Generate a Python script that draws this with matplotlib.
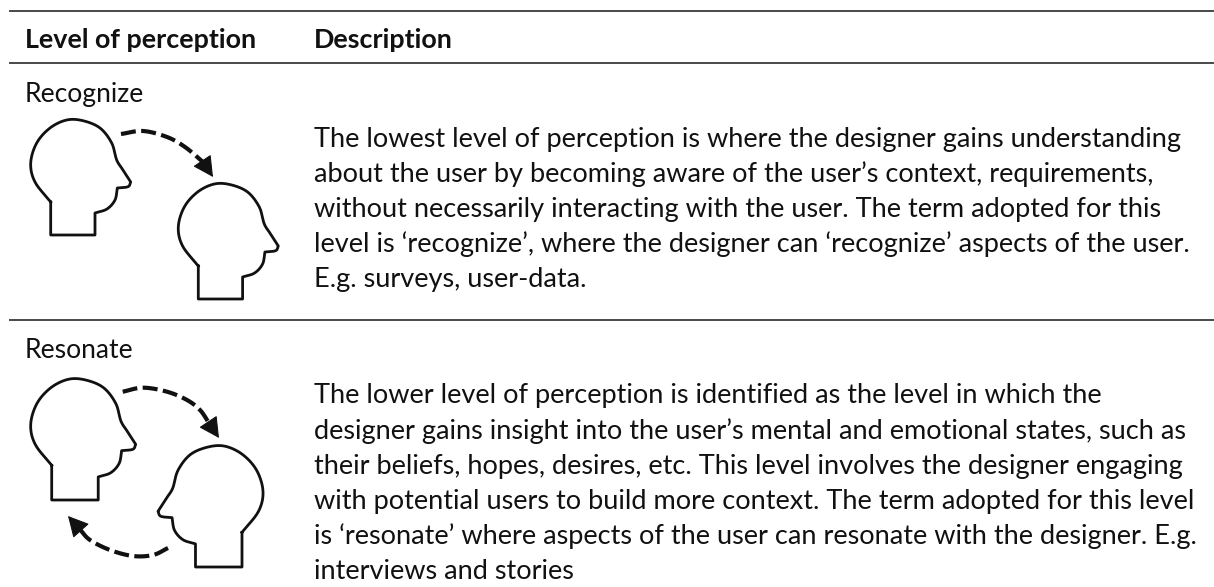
import numpy as np
import matplotlib
matplotlib.use("Agg")
import matplotlib.pyplot as plt
from matplotlib.patches import FancyArrowPatch

W, H = 1214, 587
plt.rcParams['font.family'] = ['Lato', 'DejaVu Sans']

header_left = "Level of perception"
header_right = "Description"
level_names = ["Recognize", "Resonate"]
recognize_lines = [
    "The lowest level of perception is where the designer gains understanding",
    "about the user by becoming aware of the user\u2019s context, requirements,",
    "without necessarily interacting with the user. The term adopted for this",
    "level is \u2018recognize\u2019, where the designer can \u2018recognize\u2019 aspects of the user.",
    "E.g. surveys, user-data.",
]
resonate_lines = [
    "The lower level of perception is identified as the level in which the",
    "designer gains insight into the user\u2019s mental and emotional states, such as",
    "their beliefs, hopes, desires, etc. This level involves the designer engaging",
    "with potential users to build more context. The term adopted for this level",
    "is \u2018resonate\u2019 where aspects of the user can resonate with the designer. E.g.",
    "interviews and stories",
]
recognize_base = [147, 182, 217, 252, 287]
resonate_base = [403, 439, 474, 509, 544, 579]
rule_y = [11, 63, 320]

# head outline (px), facing right; corners split the smooth runs
head_runs = [
    [(50.7, 202), (50.7, 235), (95, 235), (95, 213)],
    [(95, 213), (107, 209), (115, 200), (117.3, 188)],
    [(117.3, 188), (128, 186.7), (130.7, 182)],
    [(130.7, 182), (123, 170), (116.7, 160), (111.7, 143), (100, 128), (83, 120.7),
     (66.7, 120), (50, 128), (36.7, 143), (30.7, 163), (35, 182), (50.7, 202)],
]
# dashed arcs as seen in the reference
arc_recognize = [(121, 134), (143, 131), (167, 137), (185, 147), (203, 162)]
tip_recognize = ((203, 162), (213, 177))
arc_resonate_top = [(122.7, 391.7), (143, 387.7), (167, 391.7), (187, 400), (200, 410), (209, 423)]
tip_resonate_top = ((209, 423), (219, 438))
arc_resonate_bottom = [(168, 548), (153, 555), (133, 556), (110, 550), (90, 540), (80, 529.5)]
tip_resonate_bottom = ((80, 529.5), (68, 516))

def smooth(run, n=14):
    p = np.array(run, float)
    q = np.vstack([2 * p[0] - p[1], p, 2 * p[-1] - p[-2]])
    out = []
    for i in range(1, len(q) - 2):
        a, b, c, d = q[i - 1], q[i], q[i + 1], q[i + 2]
        for t in np.linspace(0, 1, n, endpoint=False):
            out.append(0.5 * (2 * b + (c - a) * t + (2 * a - 5 * b + 4 * c - d) * t ** 2
                              + (3 * b - a - 3 * c + d) * t ** 3))
    out.append(p[-1])
    return np.array(out)

outline = np.vstack([np.array(head_runs[0], float)] + [smooth(r) for r in head_runs[1:]])
ref = np.array([50.7, 235.0])

fig = plt.figure(figsize=(W / 100, H / 100), dpi=100)
ax = fig.add_axes([0, 0, 1, 1])
ax.set_xlim(0, W)
ax.set_ylim(H, 0)
ax.axis("off")

INK = "#111111"
for y in rule_y:
    ax.plot([9, W], [y, y], color="#3a3a3a", lw=1.3, solid_capstyle="butt")

def head(x, y, scale=1.0, flip=False):
    p = (outline - ref) * scale
    if flip:
        p = p * [-1, 1]
    ax.plot(p[:, 0] + x, p[:, 1] + y, color=INK, lw=2.0, solid_joinstyle="round")

def arc(points, tip):
    s = smooth(points)
    ax.plot(s[:, 0], s[:, 1], color=INK, lw=3.0, linestyle=(0, (3.6, 1.3)),
            dash_capstyle="butt")
    ax.add_patch(FancyArrowPatch(tip[0], tip[1], arrowstyle="-|>,head_length=6.5,head_width=3.4",
                                 color=INK, lw=0.8, shrinkA=0, shrinkB=0, mutation_scale=2.0))

head(50.7, 235)
head(198.3, 299)
arc(arc_recognize, tip_recognize)

head(51.7, 500, 1.05)
head(242, 567, 1.05, flip=True)
arc(arc_resonate_top, tip_resonate_top)
arc(arc_resonate_bottom, tip_resonate_bottom)

fs_bold = 19.35
fs_label = 19.1
fs_body = 19.5
ax.text(25, 48.3, header_left, fontsize=fs_bold, fontweight="bold", va="baseline", color=INK)
ax.text(314, 48.3, header_right, fontsize=fs_bold, fontweight="bold", va="baseline", color=INK)
ax.text(25, 101.7, level_names[0], fontsize=fs_label, va="baseline", color=INK)
ax.text(25, 358, level_names[1], fontsize=fs_label, va="baseline", color=INK)
for s, y in zip(recognize_lines, recognize_base):
    ax.text(314, y, s, fontsize=fs_body, va="baseline", color=INK)
for s, y in zip(resonate_lines, resonate_base):
    ax.text(314, y, s, fontsize=fs_body, va="baseline", color=INK)

fig.savefig("out.png", dpi=100)
